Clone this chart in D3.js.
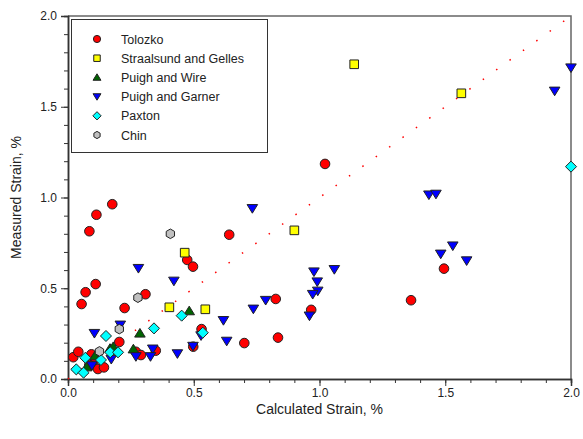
<!DOCTYPE html>
<html>
<head>
<meta charset="utf-8">
<script src="https://cdn.jsdelivr.net/npm/d3@7"></script>
<style>
  body { margin: 0; background: #fff; }
  text { font-family: "Liberation Sans", Arial, sans-serif; fill: #222; }
</style>
</head>
<body>
<div id="chart"></div>
<script>
const width = 583;
const height = 439;

// series data: [calculated, measured] strain, %
const tolozko = [
  [0.021, 0.120], [0.041, 0.150], [0.054, 0.413], [0.070, 0.478], [0.110, 0.523],
  [0.085, 0.814], [0.113, 0.905], [0.176, 0.963], [0.225, 0.391], [0.308, 0.467],
  [0.204, 0.204], [0.270, 0.150], [0.290, 0.132], [0.093, 0.136], [0.109, 0.109],
  [0.119, 0.055], [0.143, 0.064], [0.085, 0.077], [0.474, 0.656], [0.497, 0.619],
  [0.641, 0.795], [1.022, 1.185], [0.826, 0.441], [0.835, 0.228], [0.967, 0.381],
  [1.364, 0.434], [1.495, 0.608], [0.531, 0.275], [0.701, 0.198], [0.349, 0.156],
  [0.498, 0.178]
];
const straalsund = [
  [1.138, 1.734], [1.564, 1.574], [0.900, 0.819], [0.464, 0.696], [0.403, 0.395], [0.546, 0.384]
];
const puighWire = [
  [0.074, 0.066], [0.107, 0.127], [0.167, 0.168], [0.180, 0.178], [0.260, 0.165],
  [0.286, 0.252], [0.482, 0.375]
];
const puighGarner = [
  [2.0, 1.715], [1.935, 1.587], [1.435, 1.015], [1.463, 1.019], [0.733, 0.940],
  [1.482, 0.689], [1.530, 0.734], [1.585, 0.652], [0.978, 0.591], [0.991, 0.536],
  [0.993, 0.485], [0.973, 0.467], [0.960, 0.348], [1.059, 0.604], [0.786, 0.434],
  [0.737, 0.386], [0.280, 0.610], [0.421, 0.540], [0.618, 0.323], [0.631, 0.209],
  [0.497, 0.181], [0.435, 0.140], [0.337, 0.166], [0.328, 0.124], [0.529, 0.239],
  [0.105, 0.252], [0.208, 0.298], [0.172, 0.109], [0.270, 0.124], [0.095, 0.074]
];
const paxton = [
  [2.0, 1.170], [0.452, 0.349], [0.342, 0.279], [0.536, 0.255], [0.151, 0.237],
  [0.069, 0.117], [0.131, 0.105], [0.168, 0.147], [0.199, 0.147], [0.033, 0.053],
  [0.062, 0.035]
];
const chin = [
  [0.407, 0.800], [0.278, 0.448], [0.204, 0.275], [0.125, 0.152]
];

const seriesNames = ["Tolozko", "Straalsund and Gelles", "Puigh and Wire", "Puigh and Garner", "Paxton", "Chin"];
const majorTicks = [0, 0.5, 1.0, 1.5, 2.0];

const series = [
  { name: seriesNames[0], data: tolozko, fill: "#ff0000", shape: "circle" },
  { name: seriesNames[1], data: straalsund, fill: "#ffff00", shape: "square" },
  { name: seriesNames[2], data: puighWire, fill: "#006400", shape: "triUp" },
  { name: seriesNames[3], data: puighGarner, fill: "#0000ff", shape: "triDown" },
  { name: seriesNames[4], data: paxton, fill: "#00ffff", shape: "diamond" },
  { name: seriesNames[5], data: chin, fill: "#c0c0c0", shape: "hex" }
];

const svg = d3.select("#chart")
  .append("svg")
  .attr("width", width)
  .attr("height", height);

const x = d3.scaleLinear().domain([0, 2]).range([68, 571]);
const y = d3.scaleLinear().domain([0, 2]).range([379, 16]);

// frame (top and right)
svg.append("path")
  .attr("d", `M${x(0)},${y(2)}H${x(2)}V${y(0)}`)
  .attr("fill", "none")
  .attr("stroke", "#666")
  .attr("stroke-width", 1.5);

// minor ticks
const minor = d3.range(0, 2.001, 0.1);
const xMinor = d3.axisBottom(x).tickValues(minor).tickSize(4).tickFormat("");
const yMinor = d3.axisLeft(y).tickValues(minor).tickSize(4).tickFormat("");
svg.append("g").attr("transform", `translate(0,${y(0)})`).call(xMinor);
svg.append("g").attr("transform", `translate(${x(0)},0)`).call(yMinor);

const xAxis = d3.axisBottom(x).tickValues(majorTicks).tickSize(7).tickPadding(2).tickFormat(d3.format(".1f"));
const yAxis = d3.axisLeft(y).tickValues(majorTicks).tickSize(7).tickPadding(4).tickFormat(d3.format(".1f"));
svg.append("g").attr("class", "axis").attr("transform", `translate(0,${y(0)})`).call(xAxis);
svg.append("g").attr("class", "axis").attr("transform", `translate(${x(0)},0)`).call(yAxis);

svg.selectAll(".domain").attr("stroke", "#333").attr("stroke-width", 1.5);
svg.selectAll(".tick line").attr("stroke", "#333");
svg.selectAll(".axis text").style("font-size", "12px").attr("fill", "#222")
  .style("font-family", "'Liberation Sans', Arial, sans-serif");

// axis titles
svg.append("text")
  .attr("x", (x(0) + x(2)) / 2)
  .attr("y", 414)
  .attr("text-anchor", "middle")
  .style("font-size", "14px")
  .text("Calculated Strain, %");

svg.append("text")
  .attr("transform", `translate(21,${(y(0) + y(2)) / 2}) rotate(-90)`)
  .attr("text-anchor", "middle")
  .style("font-size", "14px")
  .text("Measured Strain, %");

// 1:1 line
svg.append("line")
  .attr("x1", x(0)).attr("y1", y(0))
  .attr("x2", x(2)).attr("y2", y(2))
  .attr("stroke", "#ff0000")
  .attr("stroke-width", 1.5)
  .attr("stroke-dasharray", "1.5,15");

function symbolPath(shape, s) {
  // s = half size
  if (shape === "circle") {
    return `M${-s},0A${s},${s} 0 1,0 ${s},0A${s},${s} 0 1,0 ${-s},0Z`;
  }
  if (shape === "square") {
    const h = s * 0.9;
    return `M${-h},${-h}H${h}V${h}H${-h}Z`;
  }
  if (shape === "triUp") {
    return `M0,${-s}L${s * 1.1},${s * 0.8}L${-s * 1.1},${s * 0.8}Z`;
  }
  if (shape === "triDown") {
    return `M0,${s}L${s * 1.1},${-s * 0.8}L${-s * 1.1},${-s * 0.8}Z`;
  }
  if (shape === "diamond") {
    const d = s * 1.15;
    return `M0,${-d}L${d},0L0,${d}L${-d},0Z`;
  }
  if (shape === "hex") {
    const pts = d3.range(6).map(i => {
      const a = Math.PI / 6 + i * Math.PI / 3;
      return [Math.cos(a) * s, Math.sin(a) * s];
    });
    return "M" + pts.map(p => p.join(",")).join("L") + "Z";
  }
}

// points
series.forEach(sr => {
  svg.append("g")
    .selectAll("path")
    .data(sr.data)
    .enter()
    .append("path")
    .attr("transform", d => `translate(${x(d[0])},${y(d[1])})`)
    .attr("d", symbolPath(sr.shape, 4.8))
    .attr("fill", sr.fill)
    .attr("stroke", "#222")
    .attr("stroke-width", 1);
});

// legend
const legend = svg.append("g");
legend.append("rect")
  .attr("x", 71.5).attr("y", 19.5)
  .attr("width", 196).attr("height", 133)
  .attr("fill", "#fff")
  .attr("stroke", "#333")
  .attr("stroke-width", 1);

series.forEach((sr, i) => {
  const ly = 39 + i * 19.2;
  legend.append("path")
    .attr("transform", `translate(97,${ly})`)
    .attr("d", symbolPath(sr.shape, 3.6))
    .attr("fill", sr.fill)
    .attr("stroke", "#222")
    .attr("stroke-width", 1);
  legend.append("text")
    .attr("x", 121)
    .attr("y", ly + 4.5)
    .style("font-size", "12.5px")
    .text(sr.name);
});
</script>
</body>
</html>
